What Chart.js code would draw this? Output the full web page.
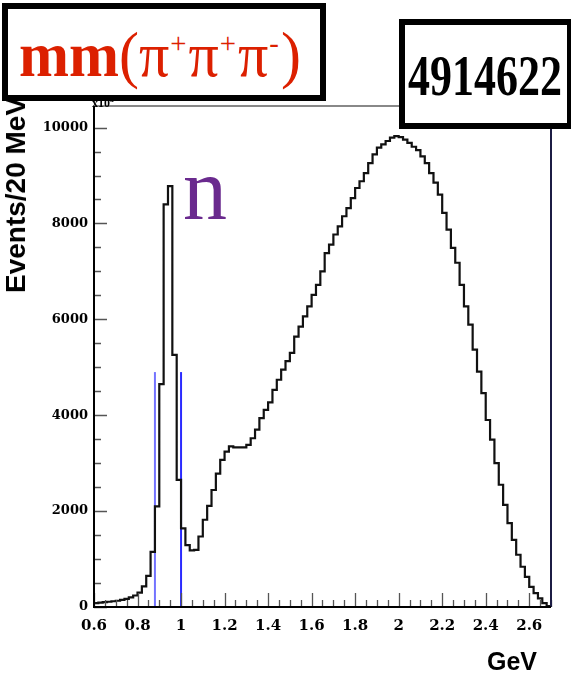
<!DOCTYPE html>
<html>
<head>
<meta charset="utf-8">
<script src="https://cdn.jsdelivr.net/npm/chart.js@4.4.0/dist/chart.umd.min.js"></script>
<style>
  html, body { margin: 0; padding: 0; background: #fff; }
  #wrap { position: relative; width: 571px; height: 674px; overflow: hidden; }
  #plot { position: absolute; left: 0; top: 0; }
  .lbl { position: absolute; white-space: nowrap; line-height: 1; }
  .box { position: absolute; box-sizing: border-box; border: 6px solid #000; background: #fff; }
  #ytitle { font: bold 28px "Liberation Sans", Arial, sans-serif; color: #000;
            left: 16px; top: 195px; transform: translate(-50%, -50%) rotate(-90deg); }
  #xtitle { font: bold 25px "Liberation Sans", Arial, sans-serif; color: #000; left: 487px; top: 647px; }
  #mult { font: bold 12px "Liberation Serif", serif; left: 92px; top: 95px; }
  #mult sup { font-size: 8px; }
  #boxL { left: 2px; top: 3px; width: 324px; height: 98px; }
  #boxR { left: 399px; top: 19px; width: 174px; height: 110px; }
  #reaction { font: 60px "Liberation Serif", "Times New Roman", serif; color: #dc2000;
              left: 19px; top: 19px; transform: scaleY(1.05); transform-origin: left top; }
  #reaction b { font-weight: bold; }
  #reaction sup { font-size: 48%; vertical-align: 0.75em; line-height: 0; padding: 0 2px 0 1px; }
  #runno { font: bold 44px "Liberation Serif", "Times New Roman", serif; color: #000;
           left: 408px; top: 43px; transform: scaleY(1.3); transform-origin: left top; }
  #peak { font: 88px "Liberation Serif", "Times New Roman", serif; color: #6a2a8e;
          left: 183px; top: 139px; }
</style>
</head>
<body>
<div id="wrap">
  <canvas id="plot" width="571" height="674"></canvas>
  <div class="lbl" id="mult">x10<sup>3</sup></div>
  <div class="lbl" id="ytitle">Events/20 MeV</div>
  <div class="lbl" id="xtitle">GeV</div>
  <div class="lbl" id="peak">n</div>
  <div class="box" id="boxL"></div>
  <div class="lbl" id="reaction"><b>mm</b>(π<sup>+</sup>π<sup>+</sup>π<sup>-</sup>)</div>
  <div class="box" id="boxR"></div>
  <div class="lbl" id="runno">4914622</div>
</div>
<script>
// histogram binning (GeV)
const binLow = 0.6;
const binWidth = 0.02;

// events per 20 MeV bin, bins from 0.60 to 2.70 GeV
const eventsPerBin = [
  80, 90, 100, 110, 120, 130, 150, 170, 200, 240, 300, 430, 650, 1150,
  2100, 4650, 8400, 8780, 5260, 2650, 1640, 1290, 1180,
  1190, 1470, 1820, 2110, 2440, 2780, 3070, 3240, 3350, 3330, 3330,
  3330, 3380, 3520, 3700, 3940, 4110, 4270, 4530, 4740, 4950, 5130,
  5300, 5640, 5850, 6060, 6270, 6510, 6720, 7000, 7380, 7560, 7770, 7940,
  8150, 8320, 8530, 8740, 8880, 9050, 9260, 9440, 9580, 9650, 9720, 9790, 9820,
  9800, 9750, 9680, 9600, 9530, 9400, 9260, 9050, 8850, 8600, 8220, 7870,
  7490, 7180, 6720, 6270, 5890, 5370,
  4910, 4460, 3900, 3490, 3000, 2550, 2130, 1750, 1400, 1090, 840, 630,
  420, 290, 180, 80, 20
];

// neutron mass window lines
const cutEdges = [0.88, 1.0];
const cutTop = 4900;
const cutColors = ['#7373ff', '#2a2aff'];

// axes
const xRange = [0.6, 2.7];
const yRange = [0, 10450];
const xTickValues = [0.6, 0.8, 1, 1.2, 1.4, 1.6, 1.8, 2, 2.2, 2.4, 2.6];
const yTickValues = [0, 2000, 4000, 6000, 8000, 10000];
const xMinorStep = 0.05;
const yMinorStep = 500;

// one point per lower bin edge, plus the upper edge of the last bin
const histPoints = eventsPerBin.map((v, i) => ({ x: binLow + i * binWidth, y: v }));
histPoints.push({ x: binLow + eventsPerBin.length * binWidth, y: eventsPerBin[eventsPerBin.length - 1] });

const datasets = cutEdges.map((e, i) => ({
    data: [{ x: e, y: 0 }, { x: e, y: cutTop }],
    borderColor: cutColors[i],
    borderWidth: 2,
    pointRadius: 0,
    order: 2
}));
datasets.push({
    data: histPoints,
    stepped: 'before',   // hold each bin's value until the next edge
    borderColor: '#111',
    borderWidth: 2.2,
    pointRadius: 0,
    fill: false,
    order: 1
});

function isMajor(v, list) {
    return list.some(t => Math.abs(t - v) < 1e-6);
}

// ROOT style frame with ticks drawn inside the plot
const frame = {
    id: 'frame',
    afterDraw(chart) {
        const { ctx, chartArea: a, scales } = chart;
        const xs = scales.x, ys = scales.y;
        ctx.save();
        ctx.strokeStyle = '#555';
        ctx.lineWidth = 1.3;
        ctx.beginPath();
        const nx = Math.round((xRange[1] - xRange[0]) / xMinorStep);
        for (let i = 0; i <= nx; i++) {
            const v = xRange[0] + i * xMinorStep;
            const px = Math.round(xs.getPixelForValue(v)) + 0.5;
            const len = isMajor(v, xTickValues) ? 14 : 7;
            ctx.moveTo(px, a.bottom);
            ctx.lineTo(px, a.bottom - len);
        }
        for (let v = yRange[0]; v <= yRange[1]; v += yMinorStep) {
            const py = Math.round(ys.getPixelForValue(v)) + 0.5;
            const len = isMajor(v, yTickValues) ? 13 : 7;
            ctx.moveTo(a.left, py);
            ctx.lineTo(a.left + len, py);
        }
        ctx.stroke();

        ctx.lineWidth = 2;
        ctx.strokeStyle = '#888';
        ctx.beginPath();
        ctx.moveTo(a.left, a.top);
        ctx.lineTo(a.right, a.top);
        ctx.stroke();
        ctx.strokeStyle = '#1c1c44';
        ctx.beginPath();
        ctx.moveTo(a.right, a.top);
        ctx.lineTo(a.right, a.bottom);
        ctx.stroke();
        ctx.strokeStyle = '#000';
        ctx.beginPath();
        ctx.moveTo(a.left, a.top);
        ctx.lineTo(a.left, a.bottom);
        ctx.lineTo(a.right, a.bottom);
        ctx.stroke();
        ctx.restore();
    }
};

new Chart(document.getElementById('plot'), {
    type: 'line',
    data: { datasets },
    plugins: [frame],
    options: {
        responsive: false,
        animation: false,
        layout: { padding: { left: 0, right: 20, top: 106, bottom: 0 } },
        plugins: { legend: { display: false }, tooltip: { enabled: false } },
        scales: {
            x: {
                type: 'linear',
                min: xRange[0],
                max: xRange[1],
                afterFit: s => { s.height = 67; },
                afterBuildTicks: s => { s.ticks = xTickValues.map(v => ({ value: v })); },
                grid: { display: false, drawTicks: false },
                border: { display: false },
                ticks: {
                    padding: 10,
                    color: '#000',
                    maxRotation: 0,
                    autoSkip: false,
                    font: { family: 'DejaVu Serif', weight: 'bold', size: 15 },
                    callback: v => String(v)
                }
            },
            y: {
                min: yRange[0],
                max: yRange[1],
                afterFit: s => { s.width = 94; },
                afterBuildTicks: s => { s.ticks = yTickValues.map(v => ({ value: v })); },
                grid: { display: false, drawTicks: false },
                border: { display: false },
                ticks: {
                    padding: 6,
                    color: '#000',
                    autoSkip: false,
                    font: { family: 'DejaVu Serif', weight: 'bold', size: 13 },
                    callback: v => String(v)
                }
            }
        }
    }
});
</script>
</body>
</html>
